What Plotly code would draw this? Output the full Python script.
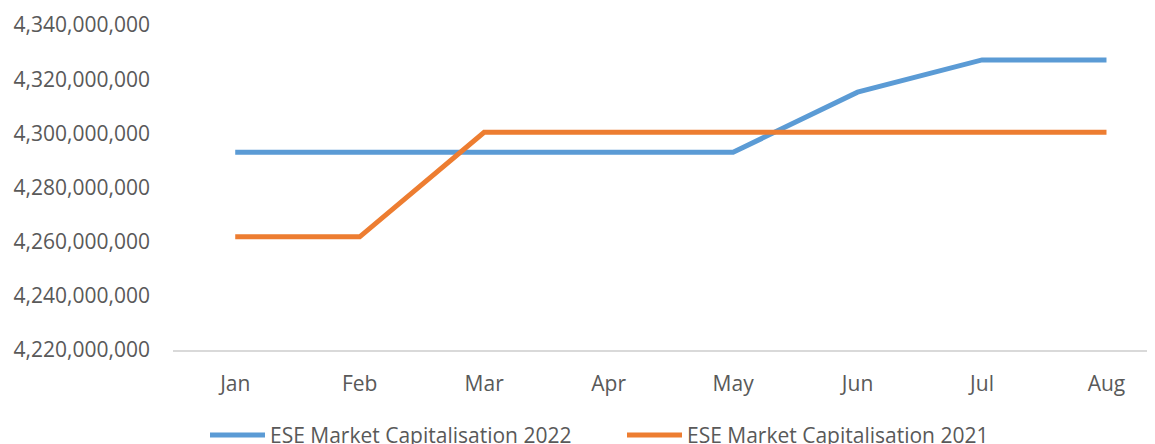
import plotly.graph_objects as go

months = ["Jan", "Feb", "Mar", "Apr", "May", "Jun", "Jul", "Aug"]
cap_2022 = [4293000000, 4293000000, 4293000000, 4293000000, 4293000000, 4315200000, 4327100000, 4327100000]
cap_2021 = [4261800000, 4261800000, 4300400000, 4300400000, 4300400000, 4300400000, 4300400000, 4300400000]
series_names = ["ESE Market Capitalisation 2022", "ESE Market Capitalisation 2021"]
colors = ["#5B9BD5", "#ED7D31"]
y_ticks = [4220000000, 4240000000, 4260000000, 4280000000, 4300000000, 4320000000, 4340000000]

FONT = "Open Sans"
TXT = "#595959"
FS = 21

fig = go.Figure()
for name, vals, col in zip(series_names, [cap_2022, cap_2021], colors):
    fig.add_trace(go.Scatter(x=list(range(len(months))), y=vals, name=name, mode="lines",
                             line=dict(color=col, width=5), showlegend=False))

# manual legend (line swatch + text); plot area is 990px wide
PW = 990.0
legend_px = [37, 454]
for i, (name, col) in enumerate(zip(series_names, colors)):
    x0 = legend_px[i] / PW
    fig.add_shape(type="line", xref="paper", yref="paper", x0=x0, x1=x0 + 55 / PW,
                  y0=-0.2615, y1=-0.2615, line=dict(color=col, width=5))
    fig.add_annotation(xref="paper", yref="paper", x=x0 + 57.5 / PW, y=-0.2615, text=name,
                       showarrow=False, xanchor="left", yanchor="middle",
                       font=dict(family=FONT, size=FS, color=TXT))

fig.update_layout(
    width=1155, height=444,
    margin=dict(l=165, r=0, t=17, b=102, autoexpand=False),
    paper_bgcolor="white", plot_bgcolor="white",
    font=dict(family=FONT, size=FS, color=TXT),
    xaxis=dict(range=[-0.5, 7.454], tickmode="array", tickvals=list(range(len(months))),
               ticktext=months, showgrid=False, zeroline=False, showline=True,
               linecolor="#D9D9D9", linewidth=1.5, ticks="", ticklabelstandoff=14,
               automargin=False, tickfont=dict(family=FONT, size=FS, color=TXT)),
    yaxis=dict(range=[4220000000, 4340000000], tickmode="array", tickvals=y_ticks,
               ticktext=[f"{v:,}" for v in y_ticks], showgrid=False, zeroline=False,
               showline=False, ticks="", ticklabelstandoff=22, automargin=False,
               tickfont=dict(family=FONT, size=FS, color=TXT)),
)

fig.write_html("out.html")
